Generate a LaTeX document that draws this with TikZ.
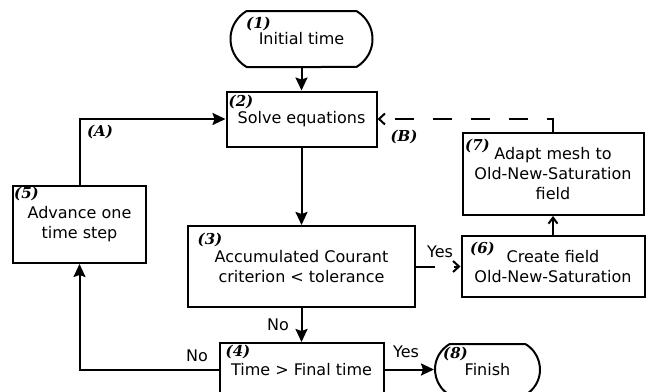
\documentclass[tikz,border=0pt]{standalone}
\usepackage{fontspec}
\setmainfont{DejaVu Sans}
\newfontfamily\numfont{DejaVu Serif}
\usetikzlibrary{arrows.meta,shapes.misc}
\begin{document}
\begin{tikzpicture}[x=1pt,y=-1pt,line width=2pt,
  box/.style={draw,rectangle,align=center,inner sep=0pt,font=\fontsize{16}{20}\selectfont},
  term/.style={draw,rounded rectangle,rounded rectangle arc length=120,align=center,inner sep=0pt,font=\fontsize{16}{20}\selectfont},
  num/.style={inner sep=0pt,font=\numfont\bfseries\itshape\fontsize{15}{15}\selectfont},
  lbl/.style={inner sep=0pt,font=\fontsize{16}{16}\selectfont},
  flow/.style={-{Stealth[length=13pt,width=12pt,inset=2pt]}},
  dflow/.style={-{Straight Barb[length=6pt,width=11pt]},dash pattern=on 19pt off 19pt},
  oflow/.style={-{Straight Barb[length=6pt,width=9pt]}}]
\useasboundingbox (0,0) rectangle (647,391);
% nodes
\node[term,minimum width=142pt,minimum height=56pt] (n1) at (301.5,39) {Initial time};
\node[box,minimum width=150pt,minimum height=55pt] (n2) at (301.5,119) {Solve equations};
\node[box,minimum width=227pt,minimum height=81pt] (n3) at (301.5,266.5) {Accumulated Courant\\criterion < tolerance};
\node[box,minimum width=164pt,minimum height=53pt] (n4) at (301.5,369.5) {Time > Final time};
\node[box,minimum width=133pt,minimum height=77pt] (n5) at (79.5,224.5) {Advance one\\time step};
\node[box,minimum width=183pt,minimum height=61pt] (n6) at (553,266.5) {Create field\\Old-New-Saturation};
\node[box,minimum width=181pt,minimum height=82pt] (n7) at (553,174) {Adapt mesh to\\Old-New-Saturation\\field};
\node[term,minimum width=105pt,minimum height=51pt] (n8) at (487.5,369.5) {Finish};
% number labels
\node[num] (k1) at (258.5,24) {(1)};
\node[num] (k2) at (241,102) {(2)};
\node[num] (k3) at (210,239.5) {(3)};
\node[num] (k4) at (238,352) {(4)};
\node[num] (k5) at (26.5,194) {(5)};
\node[num] (k6) at (482.5,249) {(6)};
\node[num] (k7) at (477.5,146) {(7)};
\node[num] (k8) at (455.5,354) {(8)};
\node[num] (kA) at (100,132) {(A)};
\node[num] (kB) at (404,137) {(B)};
% connector labels
\node[lbl] (no1) at (278,325) {No};
\node[lbl] (no2) at (197,356) {No};
\node[lbl] (yes1) at (440,252) {Yes};
\node[lbl] (yes2) at (406,352) {Yes};
% connectors
\draw[flow] (n1.south) -- (n2.north);
\draw[flow] (n2.south) -- (n3.north);
\draw[flow] (n3.south) -- (n4.north);
\draw[dflow] (n3.east) -- (n6.west);
\draw[oflow] (n6.north) -- (n7.south);
\draw[dflow] (n7.north) |- (n2.east);
\draw[flow] (n4.east) -- (n8.west);
\draw[flow] (n4.west) -| (n5.south);
\draw[flow] (n5.north) |- (n2.west);
\end{tikzpicture}
\end{document}
